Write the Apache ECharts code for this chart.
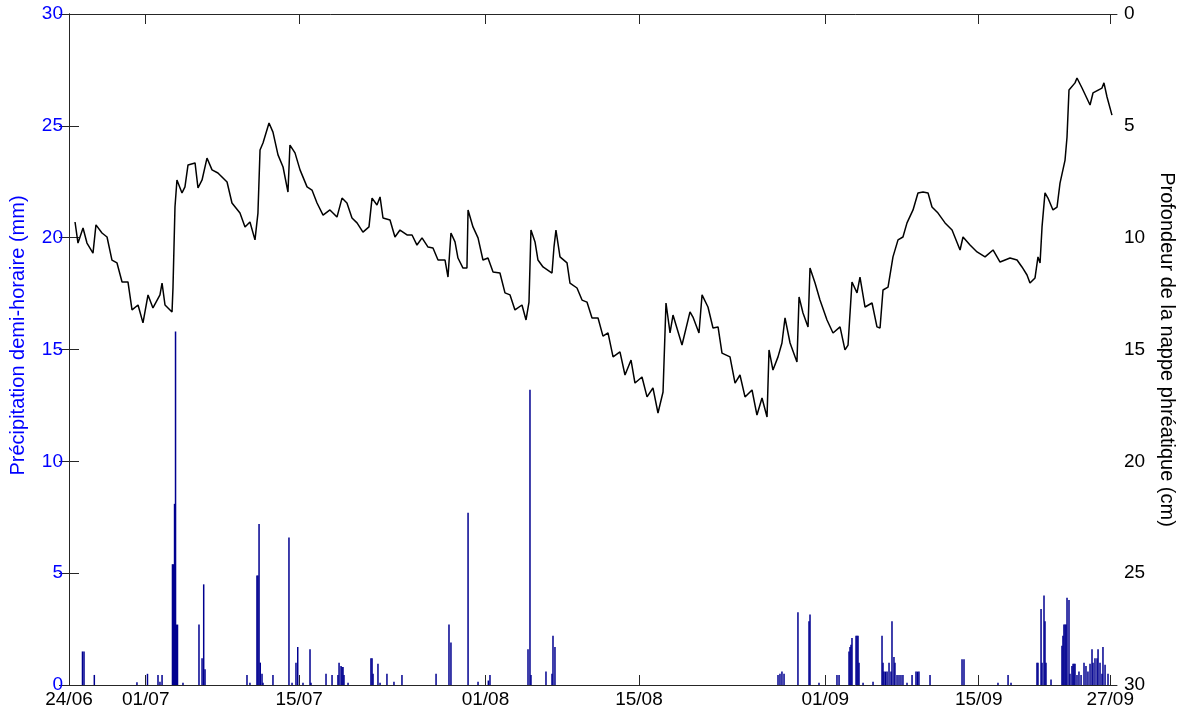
<!DOCTYPE html>
<html>
<head>
<meta charset="utf-8">
<script src="https://cdn.jsdelivr.net/npm/echarts@6/dist/echarts.min.js"></script>
<style>html,body{margin:0;padding:0;background:#fff;}#c{width:1180px;height:717px;}</style>
</head>
<body>
<div id="c"></div>
<script>
// x values: days since 24/06
const tickDays = [0, 7, 21, 38, 52, 69, 83, 95];
const tickLabels = ['24/06', '01/07', '15/07', '01/08', '15/08', '01/09', '15/09', '27/09'];

// water table depth (cm) [day, depth]
const waterTable = [
[0.55,9.3],[0.82,10.24],[1.28,9.57],[1.64,10.24],[2.19,10.69],[2.46,9.43],[3.01,9.79],[3.47,9.97],[3.92,11.0],[4.38,11.13],
[4.84,11.98],[5.38,11.98],[5.75,13.23],[6.30,13.01],[6.75,13.81],[7.21,12.56],[7.66,13.14],[8.30,12.56],[8.49,12.03],[8.76,13.01],
[9.40,13.32],[9.49,12.21],[9.67,8.63],[9.85,7.42],[10.31,8.0],[10.58,7.73],[10.86,6.75],[11.50,6.66],[11.77,7.78],[12.14,7.42],
[12.59,6.44],[13.05,6.97],[13.59,7.11],[14.42,7.51],[14.87,8.45],[15.60,8.90],[16.06,9.52],[16.51,9.30],[16.97,10.10],[17.24,8.90],
[17.43,6.08],[17.70,5.77],[18.25,4.87],[18.61,5.28],[19.07,6.30],[19.53,6.84],[19.98,7.96],[20.16,5.86],[20.62,6.21],[21.08,6.97],
[21.72,7.73],[22.17,7.87],[22.63,8.45],[23.18,8.99],[23.81,8.76],[24.45,9.08],[24.91,8.23],[25.36,8.45],[25.82,9.12],[26.28,9.34],
[26.82,9.75],[27.37,9.52],[27.65,8.23],[28.10,8.54],[28.38,8.18],[28.65,9.12],[29.29,9.21],[29.74,9.97],[30.20,9.66],[30.84,9.88],
[31.30,9.88],[31.75,10.33],[32.21,10.01],[32.76,10.42],[33.21,10.46],[33.67,11.0],[34.31,11.0],[34.58,11.76],[34.85,9.79],[35.22,10.19],
[35.49,10.91],[35.95,11.36],[36.31,11.36],[36.41,8.76],[36.86,9.52],[37.32,10.01],[37.77,11.0],[38.23,10.91],[38.69,11.53],[39.32,11.58],
[39.78,12.47],[40.24,12.56],[40.69,13.23],[41.33,13.01],[41.70,13.68],[41.97,12.88],[42.15,9.66],[42.52,10.19],[42.79,11.0],[43.25,11.31],
[44.07,11.58],[44.25,10.42],[44.43,9.66],[44.80,10.86],[45.44,11.13],[45.71,12.03],[46.35,12.25],[46.81,12.79],[47.26,12.88],[47.72,13.59],
[48.27,13.59],[48.72,14.40],[49.18,14.26],[49.64,15.33],[50.27,15.11],[50.73,16.14],[51.28,15.47],[51.64,16.50],[52.28,16.23],[52.74,17.12],
[53.28,16.72],[53.74,17.84],[54.20,16.90],[54.47,12.92],[54.84,14.26],[55.11,13.46],[55.93,14.80],[56.66,13.32],[56.93,13.55],[57.48,14.26],
[57.76,12.56],[58.30,13.10],[58.76,14.04],[59.22,13.99],[59.58,15.16],[60.31,15.33],[60.77,16.50],[61.22,16.14],[61.68,17.12],[62.32,16.81],
[62.77,17.93],[63.23,17.17],[63.69,18.02],[63.87,15.02],[64.23,15.92],[64.69,15.33],[65.05,14.71],[65.33,13.59],[65.79,14.71],[66.42,15.56],
[66.61,12.65],[66.97,13.37],[67.43,13.99],[67.61,11.36],[68.07,12.03],[68.52,12.79],[69.16,13.68],[69.71,14.26],[70.35,13.99],[70.80,15.02],
[71.08,14.80],[71.44,11.98],[71.90,12.47],[72.17,11.76],[72.63,13.10],[73.27,12.92],[73.72,13.99],[74.00,14.04],[74.27,12.34],[74.73,12.21],
[75.18,10.86],[75.64,10.10],[76.09,9.97],[76.46,9.34],[77.01,8.76],[77.46,8.0],[77.92,7.96],[78.38,8.0],[78.74,8.63],[79.29,8.90],
[79.93,9.34],[80.57,9.66],[81.30,10.55],[81.57,9.97],[82.21,10.33],[82.85,10.64],[83.58,10.86],[84.31,10.55],[84.95,11.09],[85.86,10.91],
[86.50,11.0],[86.95,11.31],[87.41,11.67],[87.68,12.03],[88.14,11.80],[88.41,10.86],[88.60,11.13],[88.78,9.52],[89.05,8.0],[89.32,8.23],
[89.78,8.76],[90.15,8.63],[90.42,7.56],[90.88,6.53],[91.06,5.50],[91.24,3.40],[91.79,3.08],[91.97,2.86],[92.43,3.31],[93.16,4.07],
[93.43,3.53],[94.25,3.31],[94.43,3.08],[94.71,3.71],[95.16,4.52]
];

// half-hourly rainfall (mm) [day, mm]
const rainfall = [
[1.23,1.5],[1.37,1.5],[2.31,0.45],[6.20,0.12],[7.16,0.5],[8.12,0.45],[8.30,0.15],[8.49,0.45],
[9.44,5.4],[9.53,5.4],[9.63,8.1],[9.72,15.8],[9.81,2.7],[9.90,2.7],[10.40,0.1],
[11.86,2.7],[12.14,1.2],[12.29,4.5],[12.41,0.7],[16.24,0.45],[16.51,0.1],
[17.15,4.9],[17.24,4.9],[17.34,7.2],[17.45,1.0],[17.61,0.5],[17.70,0.1],[18.61,0.45],
[20.07,6.6],[20.35,0.1],[20.71,1.0],[20.87,1.7],[21.35,0.1],[21.99,1.6],[22.08,0.1],
[23.45,0.5],[24.00,0.45],[24.54,0.45],[24.64,1.0],[24.82,0.85],[24.91,0.8],[25.00,0.8],[25.09,0.45],[25.46,0.1],
[27.55,1.2],[27.65,1.2],[27.74,0.5],[28.19,0.95],[28.38,0.1],[29.01,0.5],[29.65,0.15],[30.38,0.45],
[33.49,0.5],[34.67,2.7],[34.85,1.9],[36.41,7.7],[37.32,0.15],[38.26,0.2],[38.41,0.45],
[41.88,1.6],[42.06,13.2],[42.15,0.45],[43.52,0.6],[44.07,0.5],[44.16,2.2],[44.34,1.7],
[64.69,0.45],[64.87,0.5],[65.05,0.6],[65.24,0.5],[66.51,3.25],[67.52,2.85],[67.61,3.15],[68.43,0.1],
[70.07,0.45],[70.26,0.45],[71.17,1.5],[71.26,1.7],[71.35,1.8],[71.44,2.1],[71.81,2.2],[71.90,2.2],[71.99,2.2],[72.08,1.0],
[72.45,0.1],[73.36,0.15],[74.18,2.2],[74.27,1.0],[74.36,0.6],[74.50,0.6],[74.64,0.6],[74.82,1.0],[75.00,0.6],
[75.09,2.85],[75.27,1.25],[75.36,1.0],[75.55,0.45],[75.73,0.45],[75.91,0.45],[76.09,0.45],[76.46,0.1],[76.92,0.45],
[77.28,0.6],[77.42,0.6],[77.55,0.6],[78.56,0.45],[81.48,1.15],[81.66,1.15],[84.76,0.1],[85.68,0.45],[85.95,0.1],
[88.32,1.0],[88.41,1.0],[88.69,3.4],[88.78,1.0],[88.96,4.0],[89.05,2.85],[89.14,1.0],[89.60,0.25],
[90.60,1.75],[90.69,2.2],[90.78,2.7],[90.88,2.7],[90.97,2.7],[91.06,3.9],[91.24,3.8],[91.33,0.5],[91.51,0.85],
[91.61,0.95],[91.70,0.95],[91.79,0.95],[91.97,0.45],[92.15,0.6],[92.34,0.45],[92.61,1.0],[92.79,0.85],[92.97,0.6],
[93.16,0.95],[93.34,1.6],[93.43,1.0],[93.61,1.2],[93.80,1.2],[93.89,1.6],[94.07,1.0],[94.25,0.5],[94.34,1.7],
[94.53,0.9],[94.80,0.5]
];

const FONT = 'Liberation Sans, Arial, Helvetica, sans-serif';
const AX = '#262626';
const chart = echarts.init(document.getElementById('c'), null, {renderer: 'canvas'});
const xCommon = {
  type: 'value', min: 0, max: 95.62,
  axisLine: {onZero: false, lineStyle: {color: AX, width: 1}},
  axisTick: {inside: true, length: 10, customValues: tickDays, lineStyle: {color: AX}},
  splitLine: {show: false}
};
chart.setOption({
  animation: false,
  backgroundColor: '#fff',
  grid: {left: 69, right: 63, top: 14, bottom: 32, containLabel: false, outerBoundsMode: 'none'},
  xAxis: [
    Object.assign({}, xCommon, {
      position: 'bottom',
      axisLabel: {customValues: tickDays, color: '#000', fontSize: 19, fontFamily: FONT, margin: 5,
        formatter: v => tickLabels[tickDays.indexOf(Math.round(v))] || ''}
    }),
    Object.assign({}, xCommon, {position: 'top', axisLabel: {show: false}})
  ],
  yAxis: [
    {
      type: 'value', min: 0, max: 30, interval: 5, position: 'left',
      name: 'Précipitation demi-horaire (mm)', nameLocation: 'middle', nameRotate: 90, nameGap: 41,
      nameTextStyle: {color: '#0000ff', fontSize: 20, fontFamily: FONT, padding: [0, 0, 0, 28]},
      axisLine: {show: true, lineStyle: {color: AX}},
      axisTick: {inside: true, length: 10, lineStyle: {color: AX}},
      axisLabel: {color: '#0000ff', fontSize: 19, fontFamily: FONT, margin: 6},
      splitLine: {show: false}
    },
    {
      type: 'value', min: 0, max: 30, interval: 5, position: 'right', inverse: true,
      name: 'Profondeur de la nappe phréatique (cm)', nameLocation: 'middle', nameRotate: -90, nameGap: 36,
      nameTextStyle: {color: '#000', fontSize: 20, fontFamily: FONT},
      axisLine: {show: true, lineStyle: {color: AX}},
      axisTick: {inside: true, length: 10, lineStyle: {color: AX}},
      axisLabel: {color: '#000', fontSize: 19, fontFamily: FONT, margin: 7},
      splitLine: {show: false}
    }
  ],
  series: [
    {
      type: 'bar', xAxisIndex: 0, yAxisIndex: 0, data: rainfall,
      barWidth: 1.5, itemStyle: {color: '#000090'}, z: 2
    },
    {
      type: 'line', xAxisIndex: 0, yAxisIndex: 1, data: waterTable,
      showSymbol: false, symbol: 'none', lineStyle: {color: '#000', width: 1.5}, z: 3
    }
  ]
});
</script>
</body>
</html>
